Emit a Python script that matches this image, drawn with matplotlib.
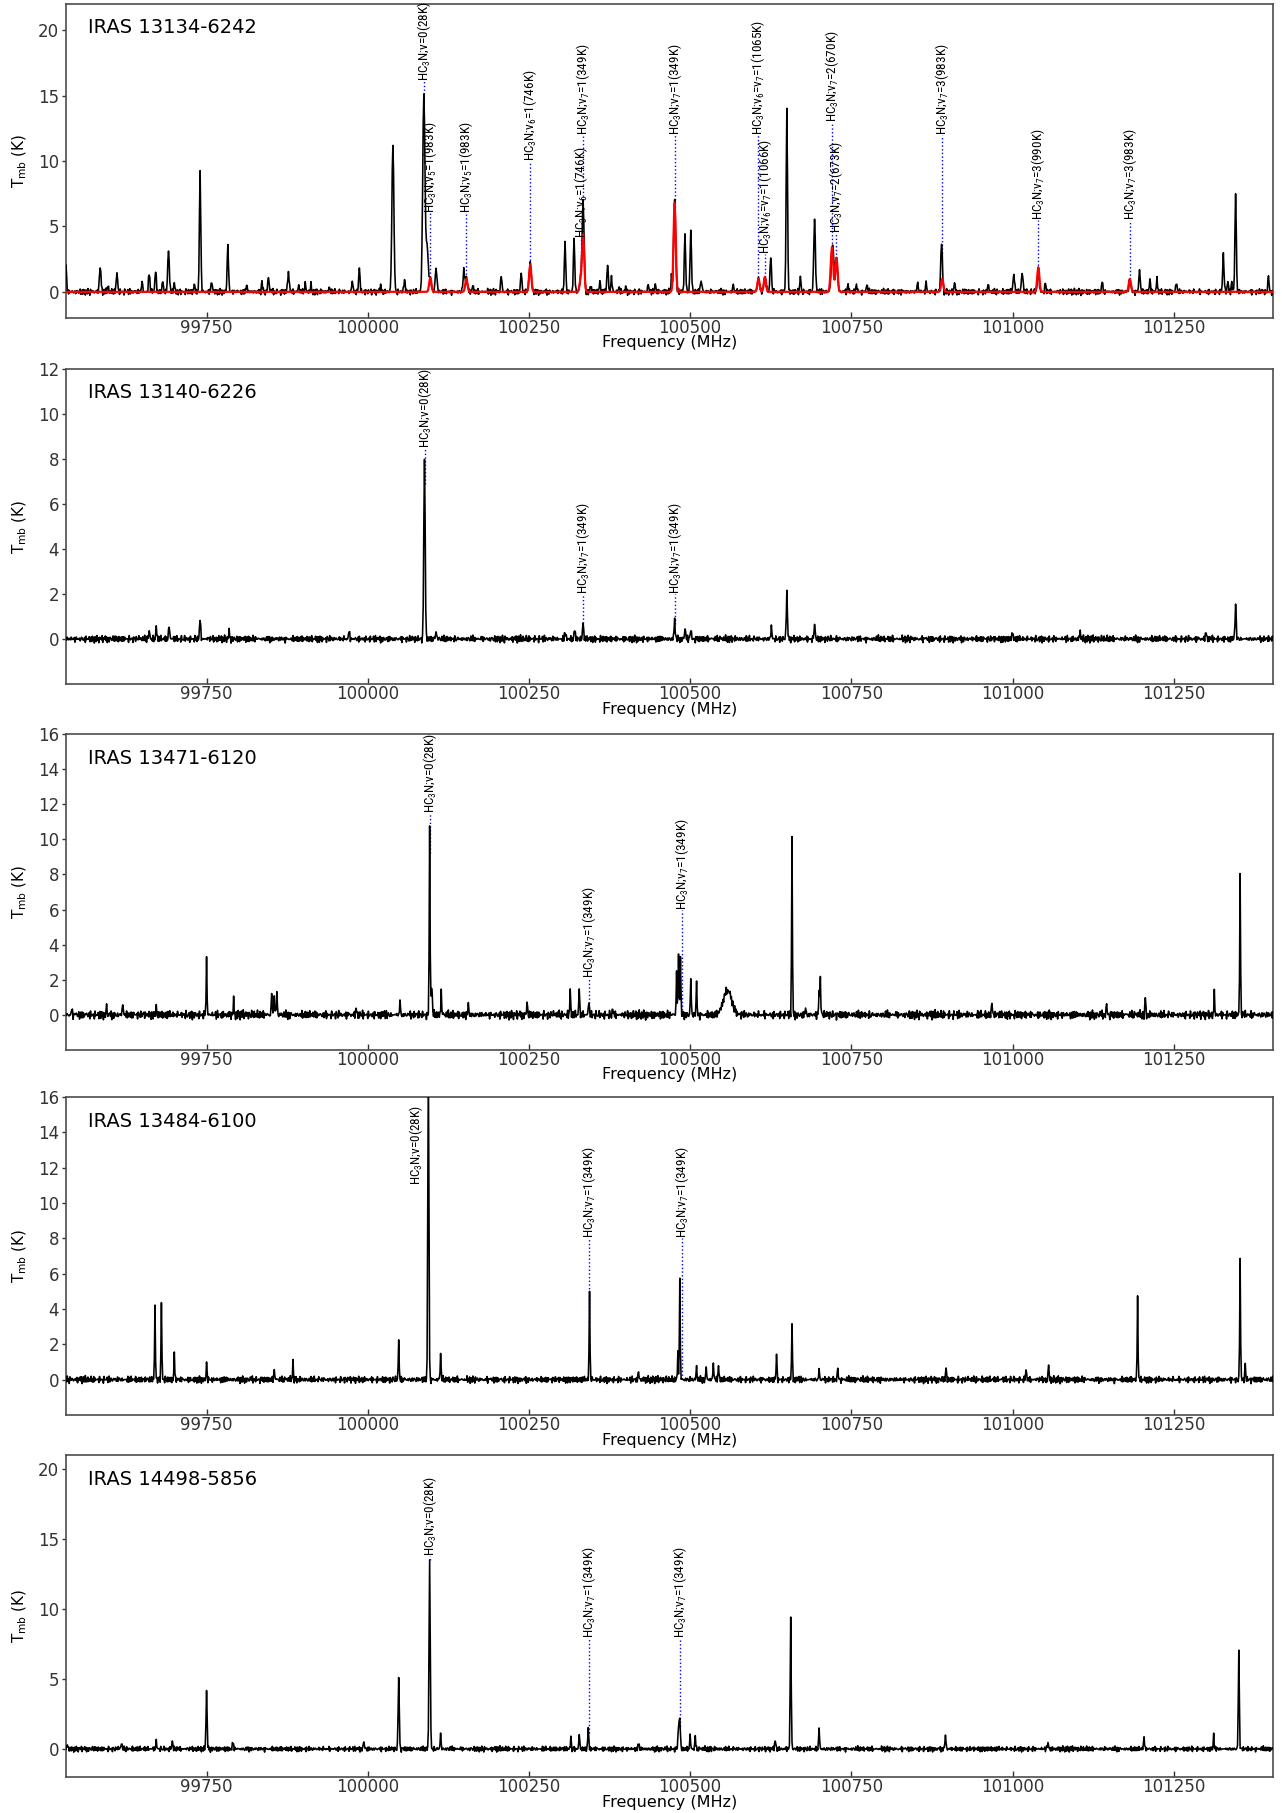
import numpy as np
import matplotlib
matplotlib.use('Agg')
import matplotlib.pyplot as plt
from matplotlib import font_manager

plt.rcParams['mathtext.default'] = 'regular'

# channel grid (MHz)
F_START, F_STOP, F_STEP = 99530.0, 101406.0, 1.0

# baseline residual pattern (two short sequences, combined per channel)
RESID_A = [0.42, -0.31, 0.75, -0.88, 0.12, 0.57, -0.64, -0.09, 0.93, -0.47,
           0.28, -0.71, 0.66, 0.04, -0.92, 0.38, -0.15, 0.81, -0.53, 0.19,
           -0.36, 0.72, -0.84, 0.47, 0.01, -0.61, 0.88, -0.24, 0.33, -0.77,
           0.55, -0.06, -0.49, 0.91, -0.33, 0.14, -0.95, 0.62, 0.27, -0.58,
           0.79, -0.19, 0.44, -0.86, 0.09, 0.68, -0.41, -0.13, 0.85, -0.69,
           0.23, -0.27, 0.51]
RESID_B = [-0.22, 0.64, -0.81, 0.35, 0.07, -0.56, 0.92, -0.38, 0.17, -0.73,
           0.49, -0.02, -0.67, 0.83, -0.29, 0.58, -0.91, 0.26, 0.71, -0.44,
           -0.11, 0.96, -0.62, 0.31, -0.18, 0.54, -0.87, 0.41, 0.06, -0.52,
           0.77, -0.35, 0.13, -0.79, 0.68, -0.05, 0.29]

# HC3N transition labels
V0 = 'HC$_3$N;v=0(28K)'
V5 = 'HC$_3$N;v$_5$=1(983K)'
V6 = 'HC$_3$N;v$_6$=1(746K)'
V7 = 'HC$_3$N;v$_7$=1(349K)'
V67a = 'HC$_3$N;v$_6$=v$_7$=1(1065K)'
V67b = 'HC$_3$N;v$_6$=v$_7$=1(1066K)'
V7_2a = 'HC$_3$N;v$_7$=2(670K)'
V7_2b = 'HC$_3$N;v$_7$=2(673K)'
V7_3a = 'HC$_3$N;v$_7$=3(983K)'
V7_3b = 'HC$_3$N;v$_7$=3(990K)'

# ---------------- IRAS 13134-6242
p1_freq = [99532.5, 99585, 99597, 99611, 99650, 99661, 99671, 99682, 99691, 99700,
           99731, 99740.5, 99758, 99783, 99812, 99836, 99846, 99877, 99893, 99903,
           99912, 99940, 99976, 99987, 100020, 100039.4, 100057, 100087, 100092, 100097,
           100106, 100148.7, 100152.6, 100163, 100207, 100238, 100252.4, 100306.5, 100320.5, 100330,
           100334, 100346, 100360.5, 100372, 100378, 100390, 100400, 100435, 100446, 100471,
           100476.4, 100492, 100501, 100517, 100567, 100606, 100616, 100625, 100650, 100671,
           100693, 100721, 100727, 100745, 100758, 100774, 100853, 100866, 100890, 100910,
           100962, 101002, 101015, 101039.5, 101051, 101139, 101181.6, 101197, 101213, 101224,
           101254, 101327, 101334, 101340, 101346, 101397]
p1_peak = [2.1, 1.85, 0.5, 1.45, 0.85, 1.45, 1.6, 0.9, 3.1, 0.7,
           0.6, 9.2, 0.7, 3.5, 0.6, 0.8, 1.0, 1.4, 0.5, 0.6,
           0.5, 0.4, 0.9, 1.8, 0.5, 11.4, 0.9, 15.2, 3.5, 1.0,
           1.85, 1.5, 1.0, 0.5, 1.2, 1.4, 2.1, 3.75, 4.05, 1.0,
           7.0, 0.5, 0.85, 2.1, 1.2, 0.4, 0.3, 0.6, 0.6, 1.2,
           6.9, 4.4, 4.8, 0.8, 0.6, 1.0, 1.15, 2.8, 14.0, 1.2,
           5.5, 3.6, 2.6, 0.6, 0.6, 0.6, 0.7, 0.7, 3.8, 0.7,
           0.6, 1.25, 1.4, 1.85, 0.7, 0.85, 1.0, 1.7, 1.0, 1.0,
           0.8, 2.8, 0.8, 0.7, 7.5, 1.3]
p1_fwhm = [2.0, 3.0, 2.0, 2.5, 2.0, 2.5, 2.5, 2.0, 3.0, 2.0,
           2.0, 2.5, 3.0, 2.5, 2.0, 2.0, 3.0, 3.0, 2.0, 2.0,
           2.0, 2.0, 2.0, 2.5, 2.0, 3.5, 2.5, 4.0, 4.0, 4.0,
           3.0, 3.0, 4.0, 2.0, 2.5, 2.5, 4.0, 2.5, 2.5, 3.0,
           3.5, 2.0, 2.0, 2.5, 2.0, 2.0, 2.0, 2.0, 2.0, 2.0,
           3.5, 2.5, 2.5, 3.0, 2.0, 4.0, 4.0, 2.5, 2.5, 2.0,
           3.0, 4.5, 4.0, 2.0, 2.0, 2.0, 2.0, 2.0, 3.0, 2.0,
           2.0, 3.0, 3.0, 3.0, 2.0, 2.0, 3.0, 2.5, 2.0, 2.0,
           2.0, 2.5, 2.0, 2.0, 2.5, 2.0]
p1_model_freq = [100097, 100152.6, 100252.4, 100330, 100334, 100476.4, 100606, 100616,
                 100720, 100727, 100891, 101039.5, 101181.6]
p1_model_peak = [1.1, 1.0, 2.1, 0.8, 4.3, 6.8, 1.0, 1.15, 3.4, 2.6, 1.0, 1.85, 1.0]
p1_model_fwhm = [4.0, 4.0, 4.0, 4.0, 4.0, 4.0, 4.0, 4.0, 4.5, 4.0, 4.0, 4.0, 4.0]
p1_label_text = [V0, V5, V5, V6, V6, V7, V7, V67a, V67b, V7_2a, V7_2b, V7_3a, V7_3b, V7_3a]
p1_label_freq = [100087, 100097, 100152.6, 100252.4, 100330, 100334, 100476.4, 100606,
                 100616, 100720, 100727, 100891, 101039.5, 101181.6]
p1_label_y = [16.1, 6.0, 6.0, 10.0, 4.1, 12.0, 12.0, 12.0, 2.9, 13.0, 4.5, 12.0, 5.5, 5.5]

# ---------------- IRAS 13140-6226
p2_freq = [99661, 99672, 99691.5, 99740.5, 99785, 99971, 100088.4, 100106, 100306.5, 100321,
           100334, 100476.4, 100492, 100501, 100625.5, 100650, 100693, 101000, 101105, 101299.5,
           101346]
p2_peak = [0.35, 0.5, 0.6, 0.9, 0.3, 0.35, 8.05, 0.35, 0.35, 0.45,
           0.7, 0.85, 0.45, 0.45, 0.5, 2.1, 0.65, 0.3, 0.3, 0.35,
           1.55]
p2_fwhm = [2.0] * 6 + [2.5] + [2.0] * 14
p2_label_text = [V0, V7, V7]
p2_label_freq = [100088.4, 100334, 100476.4]
p2_label_y = [8.5, 2.0, 2.0]

# ---------------- IRAS 13471-6120
p3_freq = [99541, 99594.6, 99620, 99672, 99750, 99792, 99851, 99855, 99859, 99981.6,
           100049.5, 100095.8, 100099, 100114, 100156, 100247, 100314, 100327.5, 100343, 100380,
           100479, 100482, 100485.4, 100501, 100509.5, 100558.5, 100658, 100679, 100699.5, 100702,
           100968, 101146, 101205.5, 101313, 101353]
p3_peak = [0.35, 0.55, 0.7, 0.45, 3.2, 0.78, 1.3, 1.2, 1.3, 0.5,
           0.8, 10.75, 1.6, 1.35, 0.6, 0.8, 1.5, 1.6, 0.85, 0.4,
           2.45, 3.4, 3.35, 2.1, 1.85, 1.4, 10.05, 0.45, 1.4, 2.1,
           0.8, 0.7, 1.05, 1.25, 7.9]
p3_fwhm = [1.5] * 12 + [2.5] + [1.5] * 12 + [15.0] + [1.5] * 9
p3_label_text = [V0, V7, V7]
p3_label_freq = [100095.8, 100343, 100486.7]
p3_label_y = [11.5, 2.1, 6.0]

# ---------------- IRAS 13484-6100
p4_freq = [99669.5, 99679.6, 99700, 99750, 99855, 99884, 100047.6, 100094.5, 100113, 100343.5,
           100420, 100481, 100484, 100509.5, 100525, 100536, 100544.5, 100633.5, 100658, 100700,
           100729, 100896.6, 101020.6, 101055.5, 101194, 101353, 101360.6]
p4_peak = [4.1, 4.4, 1.47, 0.95, 0.6, 1.0, 2.26, 18.0, 1.55, 5.0,
           0.5, 1.45, 5.75, 0.75, 0.7, 1.0, 0.9, 1.5, 3.2, 0.6,
           0.7, 0.75, 0.7, 0.9, 4.65, 6.8, 0.9]
p4_fwhm = [1.5] * 7 + [2.0] + [1.5] * 19
p4_label_text = [V0, V7, V7]
p4_label_freq = [100094.5, 100343.5, 100486.7]
p4_label_y = [11.0, 8.0, 8.0]

# ---------------- IRAS 14498-5856
p5_freq = [99534, 99617.6, 99671.5, 99697, 99749.5, 99791, 99993.6, 100048, 100096, 100113,
           100315, 100328, 100342.5, 100420, 100482, 100484.5, 100500, 100508, 100632, 100656,
           100700, 100896, 101055, 101204, 101312, 101351]
p5_peak = [0.3, 0.45, 0.5, 0.55, 4.05, 0.5, 0.55, 5.15, 13.4, 1.2,
           0.85, 1.2, 1.55, 0.4, 1.6, 2.2, 1.05, 1.0, 0.65, 9.4,
           1.4, 1.05, 0.45, 0.7, 0.95, 7.1]
p5_fwhm = [2.0] * 4 + [2.0, 2.0, 2.0, 2.0, 2.2, 1.5, 1.5, 1.5, 1.8, 2.0,
                       2.0, 2.0, 1.5, 1.5, 2.0, 1.8, 1.8, 1.8, 2.0, 2.0, 1.5, 1.8]
p5_label_text = [V0, V7, V7]
p5_label_freq = [100096, 100342.5, 100484.5]
p5_label_y = [13.8, 7.9, 7.9]

sources = ['IRAS 13134-6242', 'IRAS 13140-6226', 'IRAS 13471-6120',
           'IRAS 13484-6100', 'IRAS 14498-5856']
ylims = [(-2, 22), (-2, 12), (-2, 16), (-2, 16), (-2, 21)]
ysteps = [5, 2, 2, 2, 5]
resid_scale = [0.30, 0.20, 0.32, 0.25, 0.25]
xticks = [99750, 100000, 100250, 100500, 100750, 101000, 101250]

# axes boxes in pixels from the top of the figure: (top, bottom)
FIG_W, FIG_H = 1282, 1813
AX_LEFT, AX_RIGHT = 66, 1273
boxes = [(4, 318), (369, 684), (734, 1050), (1097, 1415), (1455, 1777)]


def pick_label_font():
    names = sorted({f.name for f in font_manager.fontManager.ttflist})
    for cand in ['Liberation Sans Narrow', 'Roboto Condensed', 'Open Sans Condensed',
                 'DejaVu Sans Condensed', 'Noto Sans Condensed']:
        if cand in names:
            return cand
    for n in names:
        if 'Narrow' in n or 'Condensed' in n:
            return n
    return 'DejaVu Sans'


LABEL_FONT = [pick_label_font(), 'DejaVu Sans']


def build_spectrum(freq, peak, fwhm, scale, shift):
    f = np.arange(F_START, F_STOP, F_STEP)
    n = len(f)
    a = np.resize(np.roll(RESID_A, shift), n)
    b = np.resize(np.roll(RESID_B, 2 * shift), n)
    y = scale * (a + b) / 2.0
    for f0, tp, w in zip(freq, peak, fwhm):
        f0 = F_START + np.round((f0 - F_START) / F_STEP) * F_STEP
        sig = w / 2.3548
        y = y + tp * np.exp(-0.5 * ((f - f0) / sig) ** 2)
    return f, y


panels = [
    (p1_freq, p1_peak, p1_fwhm, p1_label_text, p1_label_freq, p1_label_y),
    (p2_freq, p2_peak, p2_fwhm, p2_label_text, p2_label_freq, p2_label_y),
    (p3_freq, p3_peak, p3_fwhm, p3_label_text, p3_label_freq, p3_label_y),
    (p4_freq, p4_peak, p4_fwhm, p4_label_text, p4_label_freq, p4_label_y),
    (p5_freq, p5_peak, p5_fwhm, p5_label_text, p5_label_freq, p5_label_y),
]

fig = plt.figure(figsize=(FIG_W / 100, FIG_H / 100), dpi=100)

# size the line labels so that the v=0 label is ~80 px long
_t = fig.text(0, 0, V0, fontsize=10, family=LABEL_FONT)
_w = _t.get_window_extent(renderer=fig.canvas.get_renderer()).width
_t.remove()
LABEL_SIZE = 10 * 80.0 / _w

for i, (freq, peak, fwhm, ltext, lfreq, ly) in enumerate(panels):
    top, bot = boxes[i]
    ax = fig.add_axes([AX_LEFT / FIG_W, 1 - bot / FIG_H,
                       (AX_RIGHT - AX_LEFT) / FIG_W, (bot - top) / FIG_H])

    f, y = build_spectrum(freq, peak, fwhm, resid_scale[i], 7 * i + 3)
    ax.plot(f, y, color='black', lw=1.15, zorder=3)
    upper = y.copy()

    if i == 0:
        fm, ym = build_spectrum(p1_model_freq, p1_model_peak, p1_model_fwhm, 0.0, 0)
        ax.plot(fm, ym, color='red', lw=1.6, zorder=4)
        upper = np.maximum(upper, ym)

    for txt, fl, yl in zip(ltext, lfreq, ly):
        tip = np.interp(fl, f, upper)
        if tip < yl:
            ax.plot([fl, fl], [tip, yl], color='blue', ls=':', lw=1.0, zorder=2)
            ax.text(fl, yl, txt, rotation=90, ha='center', va='bottom',
                    fontsize=LABEL_SIZE, family=LABEL_FONT, zorder=5)
        else:
            # peak runs past the label: put the text beside the line
            ax.annotate(txt, (fl, yl), xytext=(-3, 0), textcoords='offset points',
                        rotation=90, ha='right', va='bottom',
                        fontsize=LABEL_SIZE, family=LABEL_FONT, zorder=5)

    ax.set_xlim(F_START + 2, F_STOP - 2)
    ax.set_ylim(*ylims[i])
    ax.set_xticks(xticks)
    ax.set_yticks(np.arange(0, ylims[i][1] + 0.01, ysteps[i]))
    ax.tick_params(axis='x', direction='in', length=4, width=1, pad=1,
                   labelsize=12, top=False, colors='0.2')
    ax.tick_params(axis='y', direction='out', length=3, width=1, pad=2,
                   labelsize=12, right=False, colors='0.2')
    for sp in ax.spines.values():
        sp.set_color('0.3')
        sp.set_linewidth(1.2)

    ax.set_xlabel('Frequency (MHz)', fontsize=11.5, va='top')
    ax.xaxis.set_label_coords(0.5, -17.5 / (bot - top))
    ax.set_ylabel('T$_{mb}$ (K)', fontsize=11)
    ax.yaxis.set_label_coords(-0.031, 0.5)
    ax.text(0.018, 0.924, sources[i], transform=ax.transAxes,
            va='center', ha='left', fontsize=14)

fig.savefig('out.png', dpi=100)
